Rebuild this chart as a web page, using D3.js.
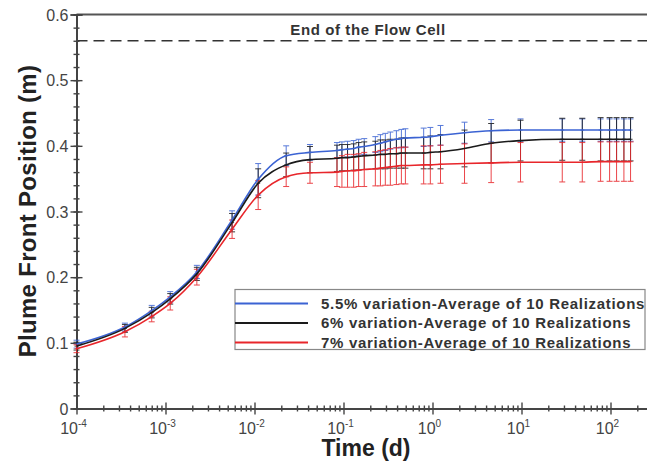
<!DOCTYPE html>
<html>
<head>
<meta charset="utf-8">
<script src="https://cdn.jsdelivr.net/npm/d3@7"></script>
<style>
  body { margin: 0; background: #fff; }
  svg { display: block; font-family: "Liberation Sans", Arial, sans-serif; }
</style>
</head>
<body>
<div id="chart"></div>
<script>
  // time in days
  const times = [1e-4, 3.5e-4, 7e-4, 1.13e-3, 2.25e-3, 5.6e-3, 1.1e-2, 0.0227, 0.042,
    0.0845, 0.096, 0.111, 0.13, 0.148, 0.171, 0.228, 0.26, 0.295, 0.336, 0.393, 0.447, 0.496,
    0.796, 0.946, 1.23, 2.29, 4.56, 9.75, 28.7, 48.2, 77.4, 97.7, 117, 141.5, 168];

  const blueVals = [0.098, 0.124, 0.149, 0.170, 0.208, 0.287, 0.349, 0.385, 0.390,
    0.393, 0.394, 0.395, 0.396, 0.398, 0.399, 0.402, 0.404, 0.406, 0.408, 0.410, 0.411, 0.412,
    0.413, 0.414, 0.416, 0.420, 0.423, 0.424, 0.424, 0.424, 0.424, 0.424, 0.424, 0.424, 0.424];
  const blackVals = [0.095, 0.122, 0.146, 0.167, 0.205, 0.283, 0.343, 0.371, 0.379,
    0.381, 0.382, 0.382, 0.383, 0.384, 0.385, 0.386, 0.387, 0.387, 0.388, 0.388, 0.389, 0.389,
    0.389, 0.390, 0.391, 0.396, 0.404, 0.408, 0.410, 0.410, 0.410, 0.410, 0.410, 0.410, 0.410];
  const redVals = [0.091, 0.117, 0.140, 0.160, 0.200, 0.273, 0.325, 0.353, 0.359,
    0.360, 0.361, 0.362, 0.362, 0.363, 0.364, 0.365, 0.366, 0.367, 0.368, 0.369, 0.370, 0.370,
    0.371, 0.371, 0.372, 0.373, 0.374, 0.375, 0.375, 0.375, 0.376, 0.376, 0.376, 0.376, 0.376];

  // error bar half-heights
  const blueErr = [0.006, 0.006, 0.008, 0.008, 0.010, 0.014, 0.024, 0.015, 0.012,
    0.012, 0.012, 0.012, 0.012, 0.012, 0.012, 0.012, 0.013, 0.013, 0.013, 0.013, 0.014, 0.014,
    0.014, 0.014, 0.015, 0.016, 0.017, 0.017, 0.017, 0.017, 0.017, 0.017, 0.017, 0.017, 0.017];
  const blackErr = [0.006, 0.006, 0.008, 0.008, 0.010, 0.014, 0.022, 0.018, 0.020,
    0.020, 0.020, 0.020, 0.020, 0.021, 0.021, 0.021, 0.022, 0.022, 0.022, 0.022, 0.023, 0.023,
    0.024, 0.025, 0.026, 0.028, 0.030, 0.031, 0.032, 0.032, 0.033, 0.033, 0.033, 0.033, 0.033];
  const redErr = [0.006, 0.008, 0.008, 0.010, 0.012, 0.014, 0.022, 0.015, 0.016,
    0.022, 0.024, 0.025, 0.025, 0.025, 0.026, 0.026, 0.027, 0.027, 0.028, 0.028, 0.028, 0.028,
    0.029, 0.029, 0.029, 0.030, 0.030, 0.030, 0.030, 0.030, 0.030, 0.030, 0.030, 0.030, 0.030];

  const seriesNames = ['5.5% variation-Average of 10 Realizations',
    '6% variation-Average of 10 Realizations',
    '7% variation-Average of 10 Realizations'];
  const seriesColors = ['#3b63d3', '#1a1a1a', '#e8262b'];

  const yTicks = [0, 0.1, 0.2, 0.3, 0.4, 0.5, 0.6];
  const xTickExps = [-4, -3, -2, -1, 0, 1, 2];
  const flowCellEnd = 0.56;

  let width = 647;
  let height = 461;

  let svg = d3.select('#chart').append('svg')
    .attr('width', width)
    .attr('height', height);

  // axis origin ~ (76.5, 408.5), 0.6 at y=14.5, ~89px per decade
  let x = d3.scaleLog().domain([1e-4, 1e3]).range([76.5, 76.5 + 89 * 7]);
  let y = d3.scaleLinear().domain([0, 0.6]).range([408.5, 14.5]);

  let series = [blueVals, blackVals, redVals].map((vals, i) => ({
    name: seriesNames[i],
    color: seriesColors[i],
    points: times.map((t, j) => ({t: t, v: vals[j], e: [blueErr, blackErr, redErr][i][j]}))
  }));

  //top frame line and end of flow cell
  svg.append('line')
    .attr('x1', x(1e-4)).attr('x2', width)
    .attr('y1', y(0.6)).attr('y2', y(0.6))
    .attr('stroke', '#555').attr('stroke-width', 2);

  svg.append('line')
    .attr('x1', x(1e-4)).attr('x2', width)
    .attr('y1', y(flowCellEnd)).attr('y2', y(flowCellEnd))
    .attr('stroke', '#333').attr('stroke-width', 1.6)
    .attr('stroke-dasharray', '11,6');

  svg.append('text')
    .attr('x', 368).attr('y', 35)
    .attr('text-anchor', 'middle')
    .attr('font-size', 15).attr('font-weight', 'bold')
    .attr('letter-spacing', 0.6)
    .attr('fill', '#333')
    .text('End of the Flow Cell');

  // y axis: major + minor ticks crossing the line
  let yMinor = d3.range(0, 0.6001, 0.02);
  let yAxisG = svg.append('g').attr('transform', `translate(${x(1e-4)},0)`);
  yAxisG.append('g').call(d3.axisLeft(y).tickValues(yMinor).tickSize(3).tickFormat(''));
  yAxisG.append('g').call(d3.axisRight(y).tickValues(yMinor).tickSize(3).tickFormat(''));
  yAxisG.append('g').call(d3.axisLeft(y).tickValues(yTicks).tickSize(6).tickFormat(''));
  yAxisG.append('g').call(d3.axisRight(y).tickValues(yTicks).tickSize(6).tickFormat(''));
  yAxisG.selectAll('path, line').attr('stroke', '#444').attr('stroke-width', 1.4);
  yAxisG.selectAll('.domain').attr('stroke-width', 1.6);

  yAxisG.selectAll('.ylab')
    .data(yTicks)
    .enter().append('text')
    .attr('class', 'ylab')
    .attr('x', -8)
    .attr('y', (d) => y(d) + 6)
    .attr('text-anchor', 'end')
    .attr('font-size', 16)
    .attr('fill', '#444')
    .text((d) => d === 0 ? '0' : d3.format('.1f')(d));

  // x axis: log, minor ticks 2..9
  let xMinor = [];
  for (let e = -4; e < 3; e++) {
    for (let m = 2; m <= 9; m++) xMinor.push(m * Math.pow(10, e));
  }
  let xMajor = xTickExps.map((e) => Math.pow(10, e)).concat([1e3]);
  let xAxisG = svg.append('g').attr('transform', `translate(0,${y(0)})`);
  xAxisG.append('g').call(d3.axisBottom(x).tickValues(xMinor).tickSize(3).tickFormat('').tickSizeOuter(0));
  xAxisG.append('g').call(d3.axisTop(x).tickValues(xMinor).tickSize(3).tickFormat('').tickSizeOuter(0));
  xAxisG.append('g').call(d3.axisBottom(x).tickValues(xMajor).tickSize(6).tickFormat('').tickSizeOuter(0));
  xAxisG.append('g').call(d3.axisTop(x).tickValues(xMajor).tickSize(6).tickFormat('').tickSizeOuter(0));
  xAxisG.selectAll('path, line').attr('stroke', '#444').attr('stroke-width', 1.4);
  xAxisG.selectAll('.domain').attr('stroke-width', 1.6);

  let xLabs = xAxisG.selectAll('.xlab')
    .data(xTickExps)
    .enter().append('text')
    .attr('class', 'xlab')
    .attr('x', (d) => x(Math.pow(10, d)) - 3)
    .attr('y', 25)
    .attr('text-anchor', 'middle')
    .attr('font-size', 16)
    .attr('fill', '#444');
  xLabs.append('tspan').text('10');
  xLabs.append('tspan')
    .attr('font-size', 10)
    .attr('dy', -7)
    .text((d) => d < 0 ? '-' + (-d) : String(d));

  // axis titles
  svg.append('text')
    .attr('x', 366).attr('y', 456)
    .attr('text-anchor', 'middle')
    .attr('font-size', 23).attr('font-weight', 'bold')
    .attr('fill', '#222')
    .text('Time (d)');

  svg.append('text')
    .attr('transform', 'translate(36,211) rotate(-90)')
    .attr('text-anchor', 'middle')
    .attr('font-size', 24).attr('font-weight', 'bold')
    .attr('letter-spacing', 0.3)
    .attr('fill', '#222')
    .text('Plume Front Position (m)');

  // error bars
  let capW = 3;
  let bars = svg.selectAll('.series-err')
    .data(series)
    .enter().append('g')
    .attr('class', 'series-err')
    .attr('stroke', (d) => d.color)
    .attr('stroke-width', 1)
    .attr('opacity', 0.85);

  bars.selectAll('path')
    .data((d) => d.points)
    .enter().append('path')
    .attr('fill', 'none')
    .attr('d', (p) => {
      let cx = x(p.t);
      let y1 = y(p.v + p.e);
      let y2 = y(p.v - p.e);
      return `M${cx},${y1}V${y2}M${cx - capW},${y1}H${cx + capW}M${cx - capW},${y2}H${cx + capW}M${cx - 2},${y(p.v)}H${cx + 2}`;
    });

  // lines
  let line = d3.line()
    .x((p) => x(p.t))
    .y((p) => y(p.v))
    .curve(d3.curveMonotoneX);

  svg.selectAll('.series-line')
    .data(series)
    .enter().append('path')
    .attr('class', 'series-line')
    .attr('fill', 'none')
    .attr('stroke', (d) => d.color)
    .attr('stroke-width', 1.6)
    .attr('d', (d) => line(d.points));

  // legend
  let legend = svg.append('g').attr('transform', 'translate(235,289.5)');
  legend.append('rect')
    .attr('width', 410).attr('height', 60)
    .attr('fill', '#fff')
    .attr('stroke', '#888').attr('stroke-width', 1.2);

  let items = legend.selectAll('.item')
    .data(series)
    .enter().append('g')
    .attr('class', 'item')
    .attr('transform', (d, i) => `translate(0,${14 + i * 19.5})`);

  items.append('line')
    .attr('x1', 0).attr('x2', 73)
    .attr('stroke', (d) => d.color)
    .attr('stroke-width', 1.8);

  items.append('text')
    .attr('x', 86).attr('y', 5)
    .attr('font-size', 15).attr('font-weight', 'bold')
    .attr('letter-spacing', 0.7)
    .attr('fill', '#333')
    .text((d) => d.name);
</script>
</body>
</html>
